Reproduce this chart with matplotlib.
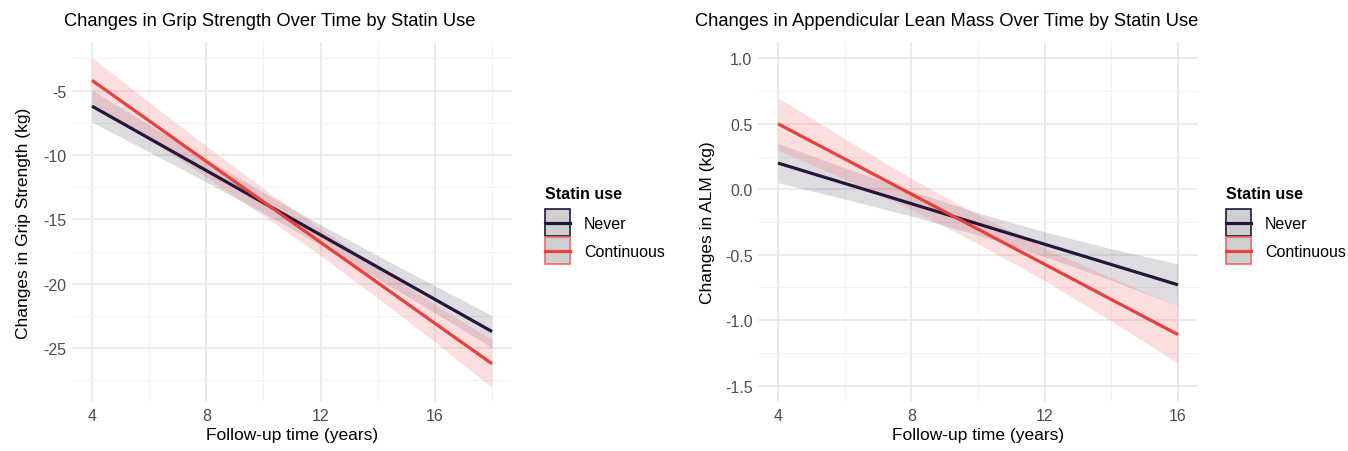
import matplotlib
matplotlib.use("Agg")
import matplotlib.pyplot as plt
from matplotlib.patches import Rectangle
from matplotlib.lines import Line2D
from matplotlib.legend_handler import HandlerBase
from matplotlib.ticker import MultipleLocator

plt.rcParams['font.family'] = ['Liberation Sans', 'DejaVu Sans']

# ---- data ----
groups = ["Never", "Continuous"]

grip_x = [4, 6, 8, 10, 12, 14, 16, 18]
grip_fit = {
    "Never":      [-6.2, -8.7, -11.2, -13.7, -16.2, -18.7, -21.2, -23.7],
    "Continuous": [-4.2, -7.34, -10.49, -13.63, -16.77, -19.91, -23.06, -26.2],
}
grip_upper = {
    "Never":      [-4.95, -7.65, -10.3, -12.9, -15.4, -17.8, -20.15, -22.45],
    "Continuous": [-2.45, -5.9, -9.3, -12.6, -15.7, -18.7, -21.6, -24.35],
}
grip_lower = {
    "Never":      [-7.45, -9.75, -12.1, -14.5, -17.0, -19.6, -22.25, -24.95],
    "Continuous": [-5.95, -8.8, -11.7, -14.7, -17.8, -21.1, -24.5, -28.05],
}

alm_x = [4, 6, 8, 10, 12, 14, 16]
alm_fit = {
    "Never":      [0.20, 0.045, -0.11, -0.265, -0.42, -0.575, -0.73],
    "Continuous": [0.50, 0.232, -0.037, -0.305, -0.573, -0.842, -1.11],
}
alm_upper = {
    "Never":      [0.35, 0.165, -0.015, -0.18, -0.325, -0.455, -0.57],
    "Continuous": [0.70, 0.387, 0.083, -0.195, -0.448, -0.677, -0.89],
}
alm_lower = {
    "Never":      [0.05, -0.075, -0.205, -0.35, -0.515, -0.695, -0.89],
    "Continuous": [0.30, 0.077, -0.157, -0.415, -0.698, -1.007, -1.33],
}

line_colors = {"Never": "#24163a", "Continuous": "#e8403a"}
key_edges = {"Never": "#24163a", "Continuous": "#ef6a66"}
fill_colors = {"Never": "#24163a", "Continuous": "#f26b6f"}
fill_alpha = {"Never": 0.15, "Continuous": 0.22}

W, H = 1348, 452
fig = plt.figure(figsize=(W / 100, H / 100), dpi=100)


class Key:
    def __init__(self, edge, line):
        self.edge = edge
        self.line = line


class KeyHandler(HandlerBase):
    # grey box with coloured border and a line through the middle, like ggplot keys
    def create_artists(self, legend, orig, xdescent, ydescent, width, height, fontsize, trans):
        x0, y0 = -xdescent, -ydescent
        box = Rectangle((x0, y0), width, height, facecolor="#cfcfcf",
                        edgecolor=orig.edge, linewidth=1.2, transform=trans)
        ln = Line2D([x0, x0 + width], [y0 + height / 2] * 2, color=orig.line,
                    linewidth=2.3, transform=trans)
        return [box, ln]


def px_axes(x0, x1, y0, y1):
    return fig.add_axes([x0 / W, 1 - y1 / H, (x1 - x0) / W, (y1 - y0) / H])

def style(ax):
    for s in ax.spines.values():
        s.set_visible(False)
    ax.set_axisbelow(True)
    ax.grid(True, which="major", color="#e8e8e8", linewidth=1.2)
    ax.grid(True, which="minor", color="#f2f2f2", linewidth=0.7)
    ax.tick_params(which="both", length=0, labelsize=11.5, labelcolor="#4d4d4d", pad=4)

def draw(ax, xs, fit, lo, hi):
    for g in groups:
        ax.fill_between(xs, lo[g], hi[g], color=fill_colors[g], alpha=fill_alpha[g], linewidth=0)
    for g in groups:
        ax.plot(xs, fit[g], color=line_colors[g], linewidth=2.3, solid_capstyle="butt")

def legend(x, y):
    handles = [Key(key_edges[g], line_colors[g]) for g in groups]
    leg = fig.legend(handles, groups, title="Statin use", loc="upper left",
                     bbox_to_anchor=(x / W, 1 - y / H), frameon=False,
                     handler_map={Key: KeyHandler()},
                     fontsize=11.5, title_fontproperties={"weight": "bold", "size": 11.5},
                     handlelength=1.55, handleheight=2.2, handletextpad=0.9,
                     labelspacing=0.08, borderpad=0, borderaxespad=0)
    leg._legend_box.align = "left"
    leg._legend_box.sep = 6

# left panel
ax1 = px_axes(72, 512, 43, 403)
style(ax1)
draw(ax1, grip_x, grip_fit, grip_lower, grip_upper)
ax1.set_xlim(4 - 0.7, 18 + 0.7)
ax1.set_ylim(-29.17, -1.22)
ax1.xaxis.set_minor_locator(MultipleLocator(2))
ax1.yaxis.set_minor_locator(MultipleLocator(2.5))
ax1.set_xticks([4, 8, 12, 16])
ax1.set_yticks([-25, -20, -15, -10, -5])
ax1.set_yticklabels(["-25", "-20", "-15", "-10", "-5"])
ax1.set_xlabel("Follow-up time (years)", fontsize=12.5, labelpad=3)
ax1.set_ylabel("Changes in Grip Strength (kg)", fontsize=12.5, labelpad=9)
fig.text(64 / W, 1 - 22 / H, "Changes in Grip Strength Over Time by Statin Use",
         fontsize=13.2, ha="left", va="center")
legend(545, 187)

# right panel
ax2 = px_axes(758, 1198, 43, 403)
style(ax2)
draw(ax2, alm_x, alm_fit, alm_lower, alm_upper)
ax2.set_xlim(4 - 0.6, 16 + 0.6)
ax2.set_ylim(-1.625, 1.125)
ax2.xaxis.set_minor_locator(MultipleLocator(2))
ax2.yaxis.set_minor_locator(MultipleLocator(0.25))
ax2.set_xticks([4, 8, 12, 16])
yt = [-1.5, -1.0, -0.5, 0.0, 0.5, 1.0]
ax2.set_yticks(yt)
ax2.set_yticklabels([f"{v:.1f}" for v in yt])
ax2.set_xlabel("Follow-up time (years)", fontsize=12.5, labelpad=3)
ax2.set_ylabel("Changes in ALM (kg)", fontsize=12.5, labelpad=7)
fig.text(695 / W, 1 - 22 / H, "Changes in Appendicular Lean Mass Over Time by Statin Use",
         fontsize=13.2, ha="left", va="center")
legend(1226, 187)

fig.savefig("out.png", dpi=100, facecolor="white")
